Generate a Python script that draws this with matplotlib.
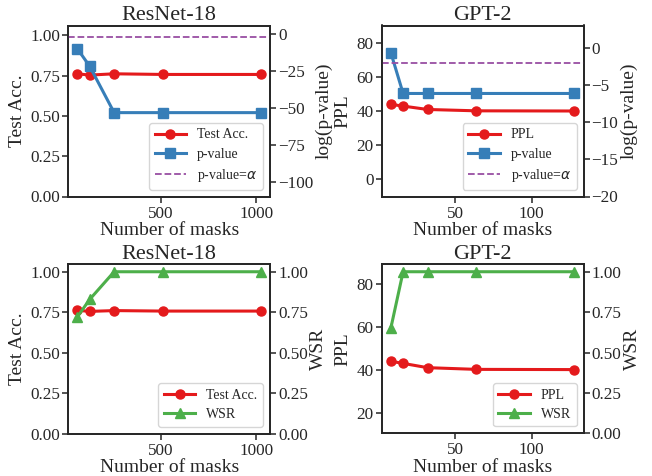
import matplotlib
matplotlib.use("Agg")
import matplotlib.pyplot as plt

plt.rcParams['font.family'] = ['Liberation Serif', 'DejaVu Serif']
plt.rcParams['axes.edgecolor'] = '#262626'
plt.rcParams['axes.linewidth'] = 1.25
plt.rcParams['xtick.color'] = '#262626'
plt.rcParams['ytick.color'] = '#262626'
plt.rcParams['text.color'] = '#262626'
plt.rcParams['axes.labelcolor'] = '#262626'

# ---- data ----
resnet_masks = [64, 128, 256, 512, 1024]
resnet_acc_top = [0.762, 0.754, 0.762, 0.758, 0.758]
resnet_logp = [-10, -21.7, -53, -53, -53]
resnet_acc_bot = [0.762, 0.755, 0.760, 0.757, 0.757]
resnet_wsr = [0.722, 0.829, 1.0, 1.0, 1.0]

gpt_masks = [8, 16, 32, 64, 128]
gpt_ppl = [44.0, 43.0, 41.0, 40.2, 40.1]
gpt_logp = [-0.6, -6.1, -6.1, -6.1, -6.1]
gpt_wsr = [0.652, 1.0, 1.0, 1.0, 1.0]

log_alpha = -2.0

RED = '#e41a1c'
BLUE = '#377eb8'
GREEN = '#4daf4a'
PURPLE = '#984ea3'

TICK_FS = 12.3
LABEL_FS = 14
TITLE_FS = 16
LEG_FS = 10

fig = plt.figure(figsize=(6.52, 4.76), dpi=100)

W, H = 652, 476
def add_ax(l, r, t, b):
    return fig.add_axes([l / W, 1 - b / H, (r - l) / W, (b - t) / H])

axes_pos = {
    'tl': (68.3, 270, 25.5, 196.5),
    'tr': (381.7, 583.5, 25.5, 196.5),
    'bl': (68.3, 270, 264.3, 433.6),
    'br': (381.7, 583.5, 264.3, 433.3),
}

def style(ax):
    ax.tick_params(axis='both', which='major', labelsize=TICK_FS, direction='out',
                   length=4, width=1.1)
    ax.tick_params(axis='y', pad=1.8)
    ax.tick_params(axis='x', pad=2.5)

def legend(ax, handles, labels):
    leg = ax.legend(handles, labels, loc='lower right',
                    fontsize=LEG_FS, frameon=True, fancybox=True, framealpha=0.8,
                    edgecolor='#cccccc', borderpad=0.4, labelspacing=0.45,
                    handlelength=2.25, handletextpad=0.8, borderaxespad=0.5)
    return leg

lw = 2.2
ms = 6.5
XPAD = 0.5
LPAD = 3.5
RPAD = 1.5

# ---- top-left: ResNet-18 p-value ----
ax = add_ax(*axes_pos['tl'])
l1, = ax.plot(resnet_masks, resnet_acc_top, '-o', color=RED, lw=lw, ms=ms, label='Test Acc.')
ax.set_ylim(0, 1.062)
ax.set_yticks([0, 0.25, 0.5, 0.75, 1.0])
ax.set_xticks([500, 1000])
ax.set_ylabel('Test Acc.', fontsize=LABEL_FS, labelpad=LPAD)
ax.set_xlabel('Number of masks', fontsize=LABEL_FS, labelpad=XPAD)
ax.set_title('ResNet-18', fontsize=TITLE_FS, pad=3)
style(ax)
ax2 = ax.twinx()
l2, = ax2.plot(resnet_masks, resnet_logp, '-s', color=BLUE, lw=lw, ms=ms, label='p-value')
l3 = ax2.axhline(log_alpha, color=PURPLE, ls='--', lw=1.3, label=r'p-value=$\alpha$')
ax2.set_ylim(-109.6, 5.8)
ax2.set_yticks([0, -25, -50, -75, -100])
ax2.set_ylabel('log(p-value)', fontsize=LABEL_FS, labelpad=RPAD)
style(ax2)
legend(ax2, [l1, l2, l3], ['Test Acc.', 'p-value', r'p-value=$\alpha$'])

# ---- top-right: GPT-2 p-value ----
ax = add_ax(*axes_pos['tr'])
l1, = ax.plot(gpt_masks, gpt_ppl, '-o', color=RED, lw=lw, ms=ms, label='PPL')
ax.set_ylim(-10.3, 90.5)
ax.set_yticks([0, 20, 40, 60, 80])
ax.set_xticks([50, 100])
ax.set_ylabel('PPL', fontsize=LABEL_FS, labelpad=LPAD)
ax.set_xlabel('Number of masks', fontsize=LABEL_FS, labelpad=XPAD)
ax.set_title('GPT-2', fontsize=TITLE_FS, pad=3)
style(ax)
ax2 = ax.twinx()
l2, = ax2.plot(gpt_masks, gpt_logp, '-s', color=BLUE, lw=lw, ms=ms, label='p-value')
l3 = ax2.axhline(log_alpha, color=PURPLE, ls='--', lw=1.3, label=r'p-value=$\alpha$')
ax2.set_ylim(-20, 3.07)
ax2.set_yticks([0, -5, -10, -15, -20])
ax2.set_ylabel('log(p-value)', fontsize=LABEL_FS, labelpad=RPAD)
style(ax2)
legend(ax2, [l1, l2, l3], ['PPL', 'p-value', r'p-value=$\alpha$'])

# ---- bottom-left: ResNet-18 WSR ----
ax = add_ax(*axes_pos['bl'])
l1, = ax.plot(resnet_masks, resnet_acc_bot, '-o', color=RED, lw=lw, ms=ms, label='Test Acc.')
ax.set_ylim(0, 1.046)
ax.set_yticks([0, 0.25, 0.5, 0.75, 1.0])
ax.set_xticks([500, 1000])
ax.set_ylabel('Test Acc.', fontsize=LABEL_FS, labelpad=LPAD)
ax.set_xlabel('Number of masks', fontsize=LABEL_FS, labelpad=XPAD)
ax.set_title('ResNet-18', fontsize=TITLE_FS, pad=3)
style(ax)
ax2 = ax.twinx()
l2, = ax2.plot(resnet_masks, resnet_wsr, '-^', color=GREEN, lw=lw, ms=ms, label='WSR')
ax2.set_ylim(0, 1.046)
ax2.set_yticks([0, 0.25, 0.5, 0.75, 1.0])
ax2.set_ylabel('WSR', fontsize=LABEL_FS, labelpad=RPAD)
style(ax2)
legend(ax2, [l1, l2], ['Test Acc.', 'WSR'])

# ---- bottom-right: GPT-2 WSR ----
ax = add_ax(*axes_pos['br'])
l1, = ax.plot(gpt_masks, gpt_ppl, '-o', color=RED, lw=lw, ms=ms, label='PPL')
ax.set_ylim(10.3, 89.35)
ax.set_yticks([20, 40, 60, 80])
ax.set_xticks([50, 100])
ax.set_ylabel('PPL', fontsize=LABEL_FS, labelpad=LPAD)
ax.set_xlabel('Number of masks', fontsize=LABEL_FS, labelpad=XPAD)
ax.set_title('GPT-2', fontsize=TITLE_FS, pad=3)
style(ax)
ax2 = ax.twinx()
l2, = ax2.plot(gpt_masks, gpt_wsr, '-^', color=GREEN, lw=lw, ms=ms, label='WSR')
ax2.set_ylim(0, 1.046)
ax2.set_yticks([0, 0.25, 0.5, 0.75, 1.0])
ax2.set_ylabel('WSR', fontsize=LABEL_FS, labelpad=RPAD)
style(ax2)
legend(ax2, [l1, l2], ['PPL', 'WSR'])

fig.savefig('out.png', dpi=100)
